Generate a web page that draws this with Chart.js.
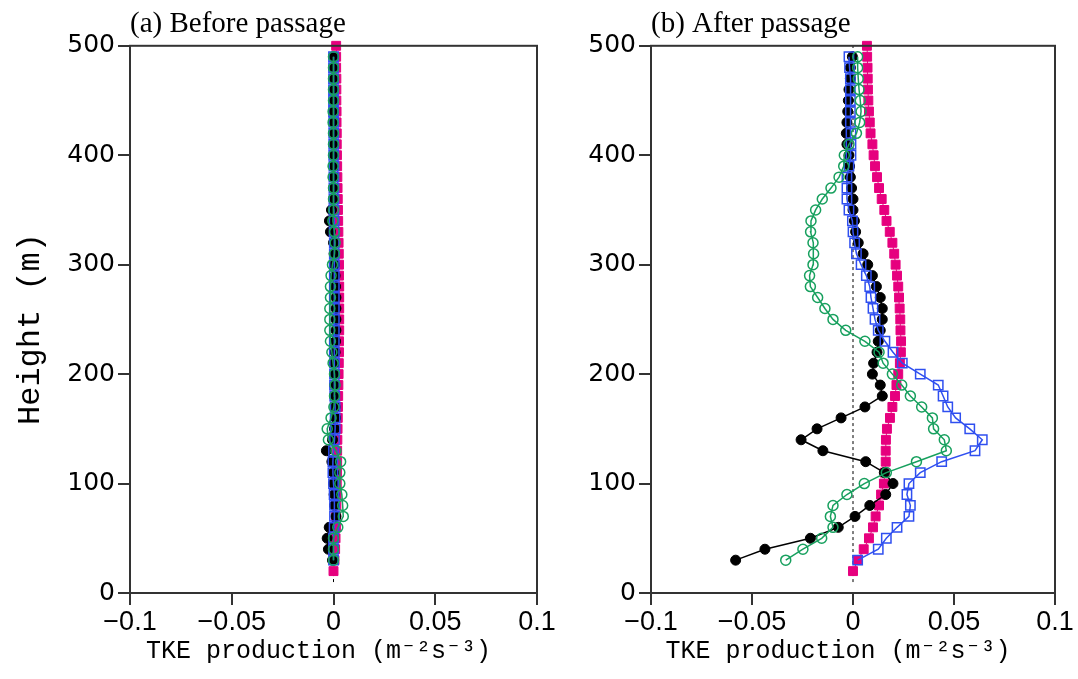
<!DOCTYPE html>
<html lang="en">
  <head>
    <meta charset="UTF-8" />
    <title>TKE production profiles</title>
    <script src="https://cdn.jsdelivr.net/npm/chart.js"></script>
    <style>
      body { margin: 0; background: #fff; }
      canvas { position: absolute; top: 0; }
      #before { left: 0; }
      #after { left: 560px; }
    </style>
  </head>
  <body>
    <canvas id="before" width="560" height="679"></canvas>
    <canvas id="after" width="518" height="679"></canvas>
    <script>
      // heights (m)
      const heightsMag = [20, 30, 40, 50, 60, 70, 80, 90, 100, 110,
        120, 130, 140, 150, 160, 170, 180, 190, 200, 210,
        220, 230, 240, 250, 260, 270, 280, 290, 300, 310,
        320, 330, 340, 350, 360, 370, 380, 390, 400, 410,
        420, 430, 440, 450, 460, 470, 480, 490, 500];
      const heightsObs = [30, 40, 50, 60, 70, 80, 90, 100, 110, 120,
        130, 140, 150, 160, 170, 180, 190, 200, 210, 220,
        230, 240, 250, 260, 270, 280, 290, 300, 310, 320,
        330, 340, 350, 360, 370, 380, 390, 400, 410, 420,
        430, 440, 450, 460, 470, 480, 490];

      // (a) before passage
      const beforeMagenta = [0.0000, 0.0005, 0.0008, 0.0010, 0.0012, 0.0013, 0.0014, 0.0015, 0.0016, 0.0017,
        0.0018, 0.0018, 0.0019, 0.0020, 0.0021, 0.0022, 0.0023, 0.0024, 0.0025, 0.0026,
        0.0027, 0.0027, 0.0028, 0.0028, 0.0028, 0.0028, 0.0028, 0.0027, 0.0027, 0.0026,
        0.0025, 0.0024, 0.0023, 0.0022, 0.0021, 0.0020, 0.0019, 0.0018, 0.0017, 0.0016,
        0.0016, 0.0015, 0.0015, 0.0014, 0.0014, 0.0014, 0.0013, 0.0013, 0.0013];
      const beforeBlue = [0.0000, 0.0000, 0.0000, 0.0003, 0.0005, 0.0005, 0.0003, 0.0000, -0.0003, -0.0003,
        0.0000, 0.0005, 0.0008, 0.0008, 0.0008, 0.0006, 0.0005, 0.0005, 0.0005, 0.0004,
        0.0004, 0.0004, 0.0004, 0.0004, 0.0004, 0.0004, 0.0004, 0.0004, 0.0004, 0.0004,
        0.0003, 0.0003, 0.0002, 0.0002, 0.0002, 0.0002, 0.0002, 0.0001, 0.0001, 0.0001,
        0.0001, 0.0000, 0.0000, 0.0000, 0.0000, 0.0000, 0.0000];
      const beforeGreen = [0.0000, 0.0000, 0.0000, 0.0021, 0.0048, 0.0045, 0.0041, 0.0031, 0.0031, 0.0035,
        0.0012, -0.0025, -0.0031, -0.0012, 0.0002, 0.0005, 0.0008, 0.0005, -0.0002, -0.0008,
        -0.0015, -0.0018, -0.0018, -0.0018, -0.0015, -0.0015, -0.0012, -0.0005, 0.0005, 0.0008,
        0.0005, -0.0003, 0.0000, 0.0000, 0.0000, -0.0002, -0.0002, 0.0000, 0.0000, 0.0000,
        -0.0002, -0.0002, 0.0000, 0.0000, 0.0000, 0.0000, 0.0000];
      const beforeBlack = [-0.0005, -0.0025, -0.0031, -0.0021, 0.0012, 0.0005, 0.0003, 0.0000, 0.0000, -0.0008,
        -0.0035, -0.0005, 0.0005, 0.0010, 0.0008, 0.0005, 0.0005, 0.0005, 0.0005, 0.0008,
        0.0010, 0.0012, 0.0012, 0.0012, 0.0012, 0.0010, 0.0008, 0.0005, 0.0003, 0.0000,
        -0.0015, -0.0020, -0.0010, 0.0000, 0.0000, 0.0000, 0.0000, 0.0000, 0.0000, 0.0000,
        0.0000, 0.0000, 0.0000, 0.0000, 0.0000, 0.0000, 0.0000];

      // (b) after passage
      const afterMagenta = [0.0000, 0.0025, 0.0053, 0.0079, 0.0099, 0.0112, 0.0129, 0.0139, 0.0153, 0.0157,
        0.0162, 0.0162, 0.0163, 0.0168, 0.0183, 0.0195, 0.0208, 0.0215, 0.0224, 0.0232,
        0.0237, 0.0238, 0.0235, 0.0234, 0.0231, 0.0228, 0.0224, 0.0218, 0.0211, 0.0204,
        0.0195, 0.0182, 0.0166, 0.0155, 0.0142, 0.0129, 0.0119, 0.0109, 0.0102, 0.0096,
        0.0087, 0.0083, 0.0079, 0.0076, 0.0074, 0.0073, 0.0072, 0.0070, 0.0069];
      const afterBlue = [0.0023, 0.0125, 0.0165, 0.0218, 0.0277, 0.0284, 0.0267, 0.0277, 0.0333, 0.0439,
        0.0604, 0.0640, 0.0578, 0.0508, 0.0469, 0.0446, 0.0422, 0.0333, 0.0244, 0.0198,
        0.0158, 0.0125, 0.0109, 0.0099, 0.0089, 0.0083, 0.0066, 0.0040, 0.0017, 0.0008,
        0.0000, -0.0003, -0.0020, -0.0030, -0.0030, -0.0030, -0.0020, -0.0010, -0.0010, -0.0010,
        -0.0013, -0.0013, -0.0013, -0.0013, -0.0013, -0.0017, -0.0020];
      const afterGreen = [-0.0333, -0.0248, -0.0155, -0.0099, -0.0112, -0.0099, -0.0030, 0.0056, 0.0165, 0.0314,
        0.0462, 0.0452, 0.0399, 0.0393, 0.0340, 0.0284, 0.0241, 0.0195, 0.0149, 0.0129,
        0.0059, -0.0036, -0.0099, -0.0139, -0.0175, -0.0211, -0.0215, -0.0198, -0.0195, -0.0198,
        -0.0210, -0.0208, -0.0185, -0.0152, -0.0109, -0.0069, -0.0046, -0.0043, -0.0020, 0.0017,
        0.0033, 0.0040, 0.0036, 0.0030, 0.0026, 0.0023, 0.0023];
      const afterBlack = [-0.0581, -0.0436, -0.0211, -0.0073, 0.0010, 0.0083, 0.0162, 0.0198, 0.0155, 0.0063,
        -0.0149, -0.0257, -0.0178, -0.0059, 0.0059, 0.0145, 0.0135, 0.0096, 0.0102, 0.0119,
        0.0125, 0.0135, 0.0145, 0.0145, 0.0135, 0.0116, 0.0096, 0.0073, 0.0050, 0.0026,
        0.0013, 0.0007, 0.0000, 0.0000, -0.0007, -0.0013, -0.0017, -0.0020, -0.0030, -0.0033,
        -0.0030, -0.0026, -0.0023, -0.0020, -0.0013, -0.0013, -0.0003];

      const zeroLineHeights = [10, 500];

      const MAGENTA = "#e6007e";
      const BLUE = "#2f4ff0";
      const GREEN = "#17a05e";
      const AXIS = "#333";

      Chart.defaults.color = "#000";
      Chart.defaults.animation = false;

      function pairs(xs, hs) {
        return xs.map((v, i) => ({ x: v, y: hs[i] }));
      }

      const frame = {
        id: "frame",
        afterDraw(chart) {
          const { ctx, chartArea: a } = chart;
          ctx.save();
          ctx.strokeStyle = AXIS;
          ctx.lineWidth = 2;
          ctx.strokeRect(a.left, a.top, a.right - a.left, a.bottom - a.top);
          ctx.restore();
        },
      };

      function makePanel(id, title, s, yWidth, showYTitle) {
        const datasets = [
          {
            data: pairs(s.green, heightsObs),
            borderColor: GREEN, borderWidth: 1.5,
            pointStyle: "circle", pointRadius: 5, pointBorderWidth: 1.5,
            pointBackgroundColor: "rgba(0,0,0,0)", pointBorderColor: GREEN,
          },
          {
            data: pairs(s.blue, heightsObs),
            borderColor: BLUE, borderWidth: 1.5,
            pointStyle: "rect", pointRadius: 6.6, pointBorderWidth: 1.5,
            pointBackgroundColor: "rgba(0,0,0,0)", pointBorderColor: BLUE,
          },
          {
            data: pairs(s.black, heightsObs),
            borderColor: "#000", borderWidth: 1.5,
            pointStyle: "circle", pointRadius: 5, pointBorderWidth: 1,
            pointBackgroundColor: "#000", pointBorderColor: "#000",
          },
          {
            data: pairs(s.magenta, heightsMag),
            borderColor: MAGENTA, borderWidth: 1,
            pointStyle: "rect", pointRadius: 6.3, pointBorderWidth: 1,
            pointBackgroundColor: MAGENTA, pointBorderColor: MAGENTA,
          },
          {
            data: pairs([0, 0], zeroLineHeights),
            borderColor: "#000", borderWidth: 1, borderDash: [3, 3],
            pointRadius: 0,
          },
        ];
        datasets.forEach((d) => { d.showLine = true; d.clip = false; });

        return new Chart(document.getElementById(id), {
          type: "scatter",
          data: { datasets },
          plugins: [frame],
          options: {
            responsive: false,
            devicePixelRatio: 1,
            layout: { padding: { left: 0, right: 23, top: 0, bottom: 0 } },
            plugins: {
              legend: { display: false },
              tooltip: { enabled: false },
              title: {
                display: true,
                text: title,
                align: "start",
                fullSize: false,
                color: "#000",
                font: { family: "'Liberation Serif', 'Times New Roman', serif", size: 29, weight: "normal" },
                padding: { top: 7, bottom: 4 },
              },
            },
            scales: {
              x: {
                type: "linear",
                min: -0.1,
                max: 0.1,
                afterFit: (sc) => { sc.height = 86; },
                ticks: {
                  stepSize: 0.05,
                  padding: 1,
                  font: { family: "'Liberation Sans', Arial, sans-serif", size: 27 },
                  callback: (v) => {
                    const r = Math.round(v * 100) / 100;
                    return r === 0 ? "0" : String(r).replace("-", "\u2212");
                  },
                },
                grid: { drawOnChartArea: false, tickLength: 12, color: AXIS, lineWidth: 2 },
                border: { color: AXIS, width: 2 },
                title: {
                  display: true,
                  text: "TKE production (m\u207B\u00B2s\u207B\u00B3)  ",
                  font: { family: "'Liberation Mono', 'Courier New', monospace", size: 25 },
                  padding: { top: 0, bottom: 13 },
                },
              },
              y: {
                min: 0,
                max: 500,
                afterFit: (sc) => { sc.width = yWidth; },
                ticks: {
                  stepSize: 100,
                  padding: 3,
                  font: { family: "'DejaVu Sans', sans-serif", size: 25 },
                },
                grid: { drawOnChartArea: false, tickLength: 12, color: AXIS, lineWidth: 2 },
                border: { color: AXIS, width: 2 },
                title: {
                  display: showYTitle,
                  text: "Height (m) ",
                  font: { family: "'Liberation Mono', 'Courier New', monospace", size: 32 },
                  padding: { top: 11, bottom: 0 },
                },
              },
            },
          },
        });
      }

      makePanel("before", "(a) Before passage",
        { magenta: beforeMagenta, blue: beforeBlue, green: beforeGreen, black: beforeBlack }, 130, true);
      makePanel("after", "(b) After passage",
        { magenta: afterMagenta, blue: afterBlue, green: afterGreen, black: afterBlack }, 91, false);
    </script>
  </body>
</html>
